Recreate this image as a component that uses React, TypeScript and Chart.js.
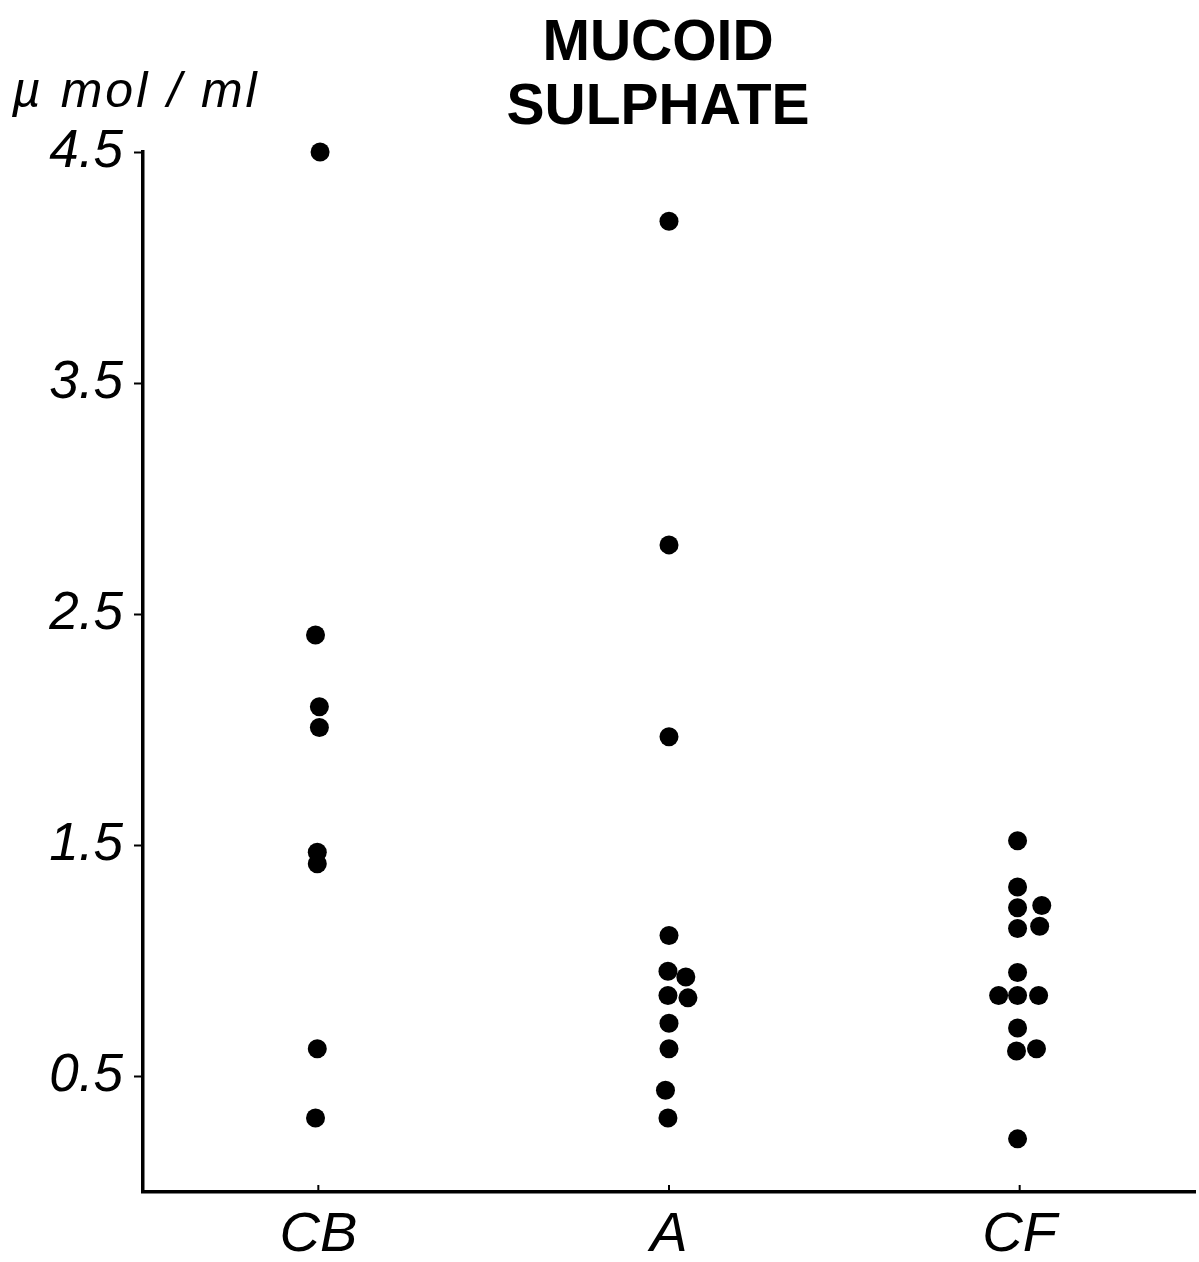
import { useEffect, useRef } from "react";
import { Chart, registerables } from "chart.js";

Chart.register(...registerables);

// Groups along the horizontal axis
const categories = ["CB", "A", "CF"];

// Vertical axis ticks (µmol/ml)
const yTickValues = [0.5, 1.5, 2.5, 3.5, 4.5];
const yTickLabels = ["0.5", "1.5", "2.5", "3.5", "4.5"];

// Mucoid sulphate per specimen, µmol/ml
const cbValues = [4.5, 2.41, 2.1, 2.01, 1.47, 1.42, 0.62, 0.32];
const aValues = [4.2, 2.8, 1.97, 1.11, 0.955, 0.93, 0.85, 0.84, 0.73, 0.62, 0.44, 0.32];
const cfValues = [1.52, 1.32, 1.23, 1.24, 1.14, 1.15, 0.95, 0.85, 0.85, 0.85, 0.71, 0.61, 0.62, 0.23];

// Side-by-side spread of coinciding dots, in group widths
const cbSpread = [0.005, -0.008, 0.003, 0.003, -0.003, -0.003, -0.003, -0.008];
const aSpread = [0, 0, 0, 0, -0.003, 0.048, -0.003, 0.054, 0, 0, -0.01, -0.003];
const cfSpread = [-0.006, -0.006, -0.006, 0.063, -0.006, 0.057, -0.006, -0.06, -0.006, 0.054, -0.006, -0.009, 0.048, -0.006];

const FONT = "'Liberation Sans', Arial, sans-serif";

const groups = [
  { values: cbValues, spread: cbSpread },
  { values: aValues, spread: aSpread },
  { values: cfValues, spread: cfSpread },
];

const annotations = {
  id: "annotations",
  afterDraw(chart: any) {
    const { ctx, chartArea, scales } = chart;
    ctx.save();
    ctx.fillStyle = "#000";
    // title
    ctx.font = `bold 57px ${FONT}`;
    ctx.textAlign = "center";
    ctx.textBaseline = "alphabetic";
    ctx.fillText("MUCOID", 658, 60);
    ctx.fillText("SULPHATE", 658, 124);
    // unit label
    ctx.font = `italic 50px ${FONT}`;
    ctx.textAlign = "left";
    (ctx as any).letterSpacing = "3px";
    ctx.fillText("µ mol / ml", 12, 107);
    (ctx as any).letterSpacing = "0px";
    // small upward ticks at each group
    ctx.strokeStyle = "#000";
    ctx.lineWidth = 2;
    categories.forEach((_, i) => {
      const px = scales.x.getPixelForValue(i + 0.5);
      ctx.beginPath();
      ctx.moveTo(px, chartArea.bottom);
      ctx.lineTo(px, chartArea.bottom - 7);
      ctx.stroke();
    });
    ctx.restore();
  },
};

export default function App() {
  const canvasRef = useRef<HTMLCanvasElement | null>(null);

  useEffect(() => {
    document.body.style.margin = "0";
    document.body.style.overflow = "hidden";
    const canvas = canvasRef.current;
    if (!canvas) return;

    const datasets = groups.map((g, gi) => ({
      label: categories[gi],
      data: g.values.map((v, i) => ({ x: gi + 0.5 + g.spread[i], y: v })),
      backgroundColor: "#000",
      borderWidth: 0,
      pointRadius: 9.5,
      pointHoverRadius: 9.5,
      showLine: false,
      clip: false as any,
    }));

    const chart = new Chart(canvas, {
      type: "scatter",
      data: { datasets },
      options: {
        animation: false,
        responsive: false,
        maintainAspectRatio: false,
        layout: { autoPadding: false, padding: { top: 152, right: 4, left: 0, bottom: 0 } },
        plugins: {
          legend: { display: false },
          tooltip: { enabled: false },
          title: { display: false },
        },
        scales: {
          x: {
            type: "linear",
            min: 0,
            max: 3,
            afterFit: (scale: any) => {
              scale.height = 70;
              scale.paddingRight = 0;
              scale.paddingLeft = 0;
            },
            afterBuildTicks: (scale: any) => {
              scale.ticks = categories.map((_, i) => ({ value: i + 0.5 }));
            },
            ticks: {
              autoSkip: false,
              maxRotation: 0,
              padding: 10,
              color: "#000",
              font: { family: FONT, size: 56, style: "italic" },
              callback: (_v: any, i: number) => categories[i],
            },
            grid: { display: true, drawOnChartArea: false, drawTicks: false },
            border: { display: true, color: "#000", width: 3.5 },
          },
          y: {
            type: "linear",
            min: 0,
            max: 4.5,
            afterFit: (scale: any) => {
              scale.width = 143;
            },
            afterBuildTicks: (scale: any) => {
              scale.ticks = yTickValues.map((v) => ({ value: v }));
            },
            ticks: {
              autoSkip: false,
              padding: 11,
              color: "#000",
              font: { family: FONT, size: 53, style: "italic" },
              callback: (v: any) => {
                const idx = yTickValues.indexOf(Number(v));
                return idx >= 0 ? yTickLabels[idx] : "";
              },
            },
            grid: {
              display: true,
              drawOnChartArea: false,
              drawTicks: true,
              tickLength: 9,
              tickWidth: 2,
              tickColor: "#000",
            },
            border: { display: true, color: "#000", width: 3.5 },
          },
        },
      },
      plugins: [annotations],
    });

    return () => chart.destroy();
  }, []);

  return (
    <div style={{ width: 1199, height: 1262, position: "relative", background: "#fff" }}>
      <canvas ref={canvasRef} width={1199} height={1262} style={{ display: "block" }} />
    </div>
  );
}
